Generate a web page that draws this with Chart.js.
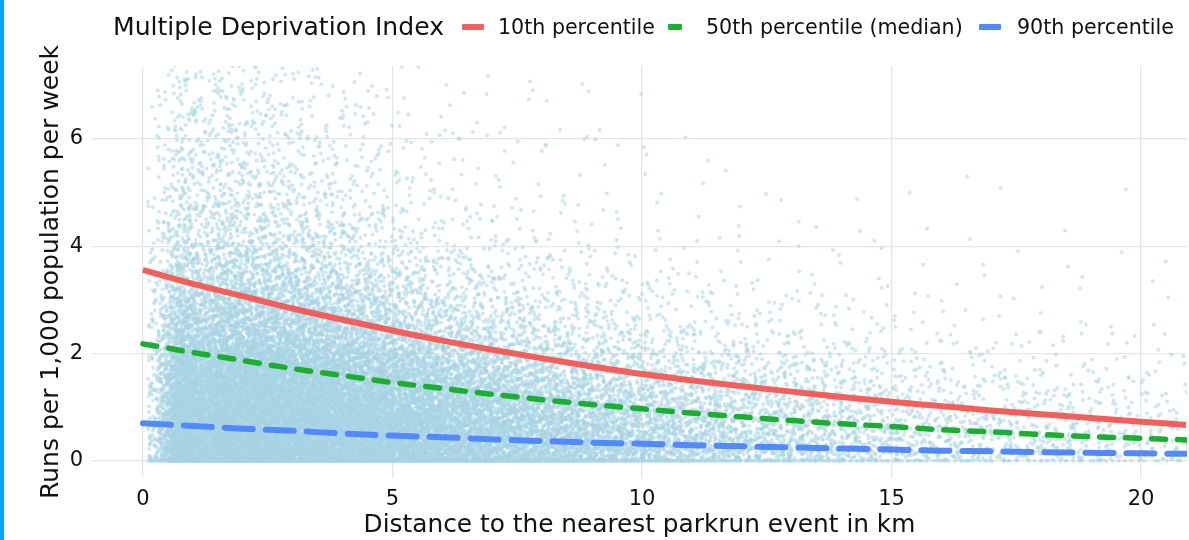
<!DOCTYPE html>
<html>
<head>
<meta charset="utf-8">
<script src="https://cdn.jsdelivr.net/npm/chart.js@4.4.0/dist/chart.umd.min.js"></script>
<style>
  html, body { margin: 0; padding: 0; background: #fff; }
  #wrap { position: relative; width: 1189px; height: 540px; overflow: hidden; }
  #stripe { position: absolute; left: 0; top: 0; width: 4px; height: 540px; background: #0aa4ff; }
  #legend { position: absolute; left: 0; top: 0; width: 1189px; height: 56px;
            font-family: "DejaVu Sans", sans-serif; color: #111; }
  #legend .txt { position: absolute; top: 12px; line-height: 30px; white-space: nowrap; }
  #legend .key { position: absolute; top: 24px; height: 6px; }
</style>
</head>
<body>
<div id="wrap">
  <canvas id="myChart" width="1189" height="540"></canvas>
  <div id="stripe"></div>
  <div id="legend"></div>
</div>
<script>
// curves: fitted runs per 1,000 per week at each km
const distKm = [0, 1, 2, 3, 4, 5, 6, 7, 8, 9, 10, 11, 12, 13, 14, 15, 16, 17, 18, 19, 20, 20.9];
const p10 = [3.56, 3.30, 3.07, 2.84, 2.63, 2.43, 2.24, 2.07, 1.91, 1.76, 1.62, 1.50, 1.39, 1.29, 1.19, 1.10, 1.02, 0.94, 0.87, 0.80, 0.73, 0.67];
const p50 = [2.18, 2.02, 1.87, 1.72, 1.59, 1.46, 1.35, 1.24, 1.14, 1.05, 0.97, 0.89, 0.82, 0.75, 0.69, 0.64, 0.58, 0.54, 0.49, 0.45, 0.42, 0.39];
const p90 = [0.70, 0.65, 0.60, 0.56, 0.51, 0.47, 0.44, 0.40, 0.37, 0.34, 0.32, 0.29, 0.27, 0.25, 0.23, 0.21, 0.19, 0.18, 0.16, 0.15, 0.14, 0.13];

const seriesLabels = ["10th percentile", "50th percentile (median)", "90th percentile"];
const legendTitle = "Multiple Deprivation Index";
const xTitle = "Distance to the nearest parkrun event in km";
const yTitle = "Runs per 1,000 population per week";
const xTicks = [0, 5, 10, 15, 20];
const yTicks = [0, 2, 4, 6];

// scatter cloud: estimated point density (points per km per 0.5 of y) for each cell
const cloudXEdges = [0.1, 0.5, 1, 2, 3, 4, 5, 6, 7, 8, 9, 10, 11, 12, 13, 14, 15, 16, 17, 18, 19, 20, 20.9];
const cloudYEdges = [0, 0.5, 1, 1.5, 2, 2.5, 3, 3.5, 4, 4.5, 5, 5.5, 6, 6.5, 7, 7.36];
const cloudDensity = [
  [110, 90, 75, 60, 50, 40, 30, 25, 20, 15, 12, 10, 8, 6, 5],
  [760, 700, 620, 520, 330, 230, 160, 110, 75, 60, 45, 40, 35, 30, 25],
  [830, 770, 700, 600, 390, 270, 190, 125, 85, 65, 52, 44, 38, 32, 28],
  [830, 770, 690, 570, 360, 250, 175, 115, 75, 56, 42, 33, 27, 22, 18],
  [770, 700, 610, 490, 300, 210, 140, 88, 55, 40, 28, 21, 16, 12, 10],
  [700, 620, 520, 400, 235, 160, 100, 62, 38, 26, 18, 13, 10, 8, 6],
  [640, 540, 420, 300, 170, 105, 65, 40, 20, 13, 9, 6, 5, 4, 3],
  [530, 440, 330, 220, 120, 75, 45, 26, 13, 9, 6, 4, 4, 3, 2],
  [430, 350, 250, 160, 88, 54, 32, 18, 9, 6, 4, 3, 3, 2, 2],
  [350, 280, 190, 120, 65, 38, 23, 13, 6, 4, 3, 2, 2, 2, 1],
  [280, 220, 145, 92, 50, 28, 16, 10, 4, 3, 2, 2, 2, 1, 1],
  [220, 170, 112, 70, 34, 18, 10, 6, 2, 2, 1, 1, 1, 0, 0],
  [180, 138, 90, 55, 26, 14, 8, 4, 2, 1, 1, 1, 0, 0, 0],
  [150, 112, 74, 43, 21, 11, 6, 3, 1, 1, 1, 0, 0, 0, 0],
  [125, 92, 60, 35, 16, 9, 5, 3, 1, 1, 0, 0, 0, 0, 0],
  [100, 75, 48, 28, 12, 7, 4, 2, 1, 0, 1, 0, 0, 0, 0],
  [78, 55, 35, 19, 7, 4, 2, 2, 1, 1, 0, 0, 0, 0, 0],
  [66, 46, 29, 16, 6, 3, 2, 1, 1, 0, 1, 0, 0, 0, 0],
  [56, 39, 24, 13, 5, 3, 2, 1, 0, 1, 0, 0, 0, 0, 0],
  [50, 33, 20, 10, 4, 2, 1, 1, 1, 0, 0, 0, 0, 0, 0],
  [43, 28, 16, 9, 3, 2, 1, 1, 0, 1, 0, 0, 0, 0, 0],
  [36, 23, 14, 7, 3, 1, 1, 1, 0, 0, 1, 0, 0, 0, 0]
];
// points sitting exactly on zero, per km, for each column
const cloudZeros = [40, 120, 130, 130, 120, 110, 100, 85, 70, 60, 50, 40, 32, 26, 22, 18, 15, 12, 10, 9, 8, 7];

const colRed = "#f2605b";
const colGreen = "#1cae30";
const colBlue = "#5389ff";
const colDots = "rgba(168, 212, 228, 0.55)";
const fontFam = "'DejaVu Sans', sans-serif";

// Halton sequence: an even, deterministic spread of points inside each cell
function halton(i, b) {
  let f = 1, r = 0;
  while (i > 0) { f /= b; r += f * (i % b); i = Math.floor(i / b); }
  return r;
}

// each cell's points fall off linearly into its neighbours (tent shape),
// so neighbouring cells blend instead of leaving hard steps
function buildCloud() {
  const pts = [];
  const xMin = cloudXEdges[0];
  let n = 0;
  for (let i = 0; i < cloudDensity.length; i++) {
    const x0 = cloudXEdges[i], x1 = cloudXEdges[i + 1];
    const w = x1 - x0, xc = (x0 + x1) / 2;
    for (let j = 0; j < cloudDensity[i].length; j++) {
      const y0 = cloudYEdges[j], y1 = cloudYEdges[j + 1];
      const h = y1 - y0, yc = (y0 + y1) / 2;
      const count = Math.round(cloudDensity[i][j] * w * h / 0.5);
      for (let k = 0; k < count; k++) {
        n++;
        let x = xc + (halton(n, 2) + halton(n, 3) - 1) * w;
        let y = yc + (halton(n, 5) + halton(n, 7) - 1) * h;
        if (x < xMin) x = 2 * xMin - x;
        if (y < 0) y = -y;
        pts.push({ x: x, y: y });
      }
    }
    const z = Math.round(cloudZeros[i] * w);
    for (let k = 0; k < z; k++) {
      n++;
      pts.push({ x: x0 + halton(n, 2) * w, y: 0 });
    }
  }
  return pts;
}

function curve(vals) {
  return distKm.map((d, i) => ({ x: d, y: vals[i] }));
}

const lineCommon = {
  type: "line",
  showLine: true,
  pointRadius: 0,
  borderWidth: 6,
  cubicInterpolationMode: "monotone",
  fill: false
};

const config = {
  type: "scatter",
  data: {
    datasets: [
      Object.assign({}, lineCommon, { label: seriesLabels[0], data: curve(p10), borderColor: colRed, order: 1, borderCapStyle: "butt" }),
      Object.assign({}, lineCommon, { label: seriesLabels[1], data: curve(p50), borderColor: colGreen, order: 2, borderDash: [14, 12], borderCapStyle: "round", borderWidth: 5.5 }),
      Object.assign({}, lineCommon, { label: seriesLabels[2], data: curve(p90), borderColor: colBlue, order: 3, borderDash: [28, 13], borderCapStyle: "round" }),
      {
        label: "areas",
        data: buildCloud(),
        backgroundColor: colDots,
        borderWidth: 0,
        pointRadius: 2,
        pointHoverRadius: 0,
        order: 10
      }
    ]
  },
  options: {
    responsive: false,
    animation: false,
    events: [],
    layout: { padding: { top: 66, right: 0, left: 0, bottom: 0 } },
    plugins: { legend: { display: false }, tooltip: { enabled: false } },
    scales: {
      x: {
        type: "linear",
        min: -1.02,
        max: 20.92,
        afterBuildTicks: (s) => { s.ticks = xTicks.map(v => ({ value: v })); },
        afterFit: (s) => { s.height = 62; },
        grid: { color: "#e4e4e4", lineWidth: 1.3, drawTicks: false },
        border: { display: false },
        ticks: { color: "#111", font: { family: fontFam, size: 21 }, padding: 9, maxRotation: 0 },
        title: { display: true, text: xTitle, color: "#111", font: { family: fontFam, size: 24.8 }, padding: { top: 0, bottom: 0 } }
      },
      y: {
        type: "linear",
        min: -0.32,
        max: 7.36,
        afterBuildTicks: (s) => { s.ticks = yTicks.map(v => ({ value: v })); },
        afterFit: (s) => { s.width = 92; },
        grid: { color: "#e4e4e4", lineWidth: 1.3, drawTicks: false },
        border: { display: false },
        ticks: { color: "#111", font: { family: fontFam, size: 21 }, padding: 9 },
        title: { display: true, text: yTitle, color: "#111", font: { family: fontFam, size: 25 }, padding: { top: 36, bottom: 0 } }
      }
    }
  }
};

const myChart = new Chart(document.getElementById("myChart"), config);

// legend across the top, laid out like the original
const legend = document.getElementById("legend");
function addText(text, left, size) {
  const el = document.createElement("span");
  el.className = "txt";
  el.textContent = text;
  el.style.left = left + "px";
  el.style.fontSize = size + "px";
  legend.appendChild(el);
}
function addKey(color, left, width) {
  const el = document.createElement("div");
  el.className = "key";
  el.style.left = left + "px";
  el.style.width = width + "px";
  el.style.background = color;
  el.style.borderRadius = "1px";
  legend.appendChild(el);
}
addText(legendTitle, 113, 25.1);
addKey(colRed, 462, 22);
addText(seriesLabels[0], 498, 20.6);
addKey(colGreen, 668, 14);
addText(seriesLabels[1], 706, 20.6);
addKey(colBlue, 979, 22);
addText(seriesLabels[2], 1017, 20.6);
</script>
</body>
</html>
